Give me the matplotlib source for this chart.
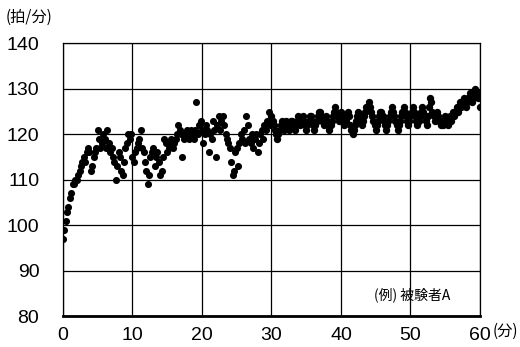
import numpy as np
import matplotlib.pyplot as plt

plt.rcParams['font.family'] = ['Liberation Sans Narrow', 'Liberation Sans', 'Noto Sans CJK JP']

# heart rate (beats/min), minutes 0-29: 5 readings per minute
hr_early_rows = [
    [97, 99, 101, 103, 104],      # 0
    [106, 107, 109, 109, 110],
    [110, 111, 112, 113, 114],
    [115, 114, 116, 117, 116],
    [112, 113, 115, 116, 117],
    [121, 119, 117, 118, 120],    # 5
    [119, 117, 121, 118, 116],
    [117, 115, 114, 110, 113],
    [116, 115, 112, 111, 114],
    [117, 118, 120, 119, 120],
    [115, 114, 116, 117, 118],    # 10
    [119, 121, 117, 116, 114],
    [112, 109, 111, 115, 116],
    [117, 113, 115, 116, 114],
    [111, 112, 115, 119, 118],
    [116, 117, 118, 119, 117],    # 15
    [118, 119, 120, 122, 121],
    [120, 115, 119, 120, 121],
    [120, 119, 121, 120, 119],
    [121, 127, 120, 122, 123],
    [121, 118, 120, 122, 121],    # 20
    [116, 120, 119, 123, 121],
    [115, 122, 124, 121, 123],
    [124, 122, 120, 119, 118],
    [117, 114, 111, 112, 116],
    [117, 113, 118, 120, 119],    # 25
    [121, 118, 124, 122, 119],
    [118, 120, 117, 119, 120],
    [116, 118, 120, 121, 119],
    [122, 121, 123, 125, 122],
]

# minutes 30-60: 6 readings per minute
hr_late_rows = [
    [124, 123, 122, 121, 120, 119],   # 30
    [120, 121, 122, 123, 122, 121],
    [122, 123, 122, 121, 122, 123],
    [123, 122, 121, 122, 123, 124],
    [123, 122, 123, 124, 123, 122],
    [121, 122, 123, 124, 124, 123],   # 35
    [122, 121, 122, 123, 124, 125],
    [125, 124, 123, 122, 123, 124],
    [123, 122, 121, 122, 123, 124],
    [125, 126, 125, 124, 123, 124],
    [125, 124, 123, 122, 123, 124],   # 40
    [125, 124, 122, 121, 120, 121],
    [122, 123, 124, 125, 124, 123],
    [122, 123, 124, 125, 126, 126],
    [127, 126, 125, 124, 123, 122],
    [121, 122, 123, 124, 125, 125],   # 45
    [124, 123, 122, 121, 122, 123],
    [124, 125, 126, 125, 124, 123],
    [122, 121, 122, 123, 124, 125],
    [126, 125, 124, 123, 122, 123],
    [124, 125, 126, 125, 124, 123],   # 50
    [122, 123, 124, 125, 126, 125],
    [124, 123, 122, 124, 126, 128],
    [127, 125, 124, 123, 124, 125],
    [124, 123, 122, 123, 122, 123],
    [124, 123, 122, 123, 124, 123],   # 55
    [124, 125, 124, 125, 126, 125],
    [126, 127, 126, 127, 128, 127],
    [126, 127, 128, 129, 128, 127],
    [128, 129, 130, 129, 128, 129],
    [126],                            # 60
]

hr_early = [v for row in hr_early_rows for v in row]
hr_late = [v for row in hr_late_rows for v in row]
t_early = np.arange(len(hr_early)) / 5.0
t_late = 30 + np.arange(len(hr_late)) / 6.0

x_ticks = [0, 10, 20, 30, 40, 50, 60]
y_ticks = [80, 90, 100, 110, 120, 130, 140]

fig = plt.figure(figsize=(5.2, 3.47), dpi=100)
ax = fig.add_axes([0.121, 0.089, 0.802, 0.786])

ax.scatter(t_early, hr_early, s=26, color='black', linewidths=0, zorder=3)
ax.scatter(t_late, hr_late, s=28, color='black', linewidths=0, zorder=3)

ax.set_xlim(0, 60)
ax.set_ylim(80, 140)
ax.set_xticks(x_ticks)
ax.set_yticks(y_ticks)
ax.grid(True, color='black', linewidth=0.9)
ax.tick_params(length=0, labelsize=14)
ax.tick_params(axis='y', pad=17)
ax.tick_params(axis='x', pad=8)
for side in ['top', 'right', 'left']:
    ax.spines[side].set_linewidth(0.9)
ax.spines['bottom'].set_linewidth(2)

fig.text(0.01, 0.95, '(拍/分)', fontsize=11, family=['Noto Sans CJK JP'], va='center')
fig.text(0.947, 0.045, '(分)', fontsize=11, family=['Noto Sans CJK JP'], va='center')
ax.text(0.93, 0.08, '(例) 被験者A', fontsize=10, family=['Noto Sans CJK JP'],
        transform=ax.transAxes, ha='right', va='center')

fig.savefig('out.png', dpi=100)
